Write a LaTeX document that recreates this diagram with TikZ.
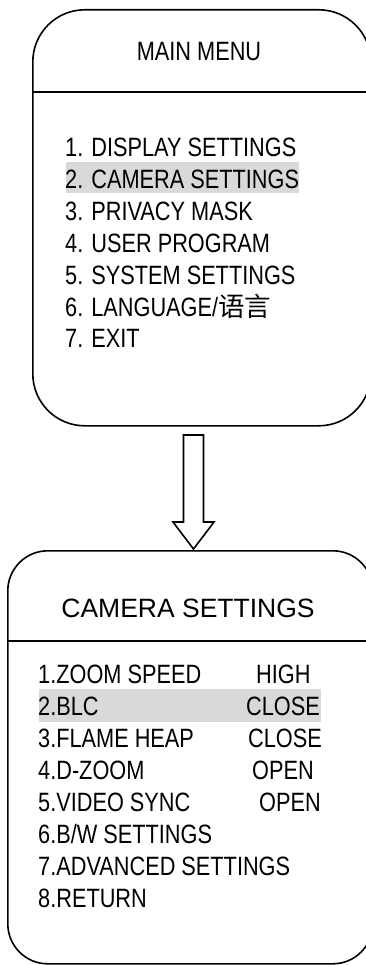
\documentclass[tikz,border=0pt]{standalone}
\usepackage{fontspec}
\setmainfont{Liberation Sans}[FakeStretch=0.82]
\newfontfamily\regfont{Liberation Sans}
\newfontfamily\cjk{Noto Sans CJK SC}
\begin{document}
\begin{tikzpicture}[x=1pt,y=-1pt,
  box/.style={draw, line width=1.6pt, anchor=north west, inner sep=0pt},
  item/.style={anchor=base west, inner sep=0pt, font=\fontsize{26.5pt}{30pt}\selectfont},
  ttl/.style={anchor=base, inner sep=0pt, font=\fontsize{26.5pt}{30pt}\selectfont},
  sep/.style={line width=1.6pt},
  hl/.style={fill=black!15, draw=none}]
\useasboundingbox (0,0) rectangle (366,965);
% highlights
\fill[hl] (66,162) rectangle (299,193);
\fill[hl] (39,689) rectangle (321,722);
% boxes
\node[box, rounded corners=52pt, minimum width=338pt, minimum height=416pt] (main) at (32,9) {};
\node[box, rounded corners=40pt, minimum width=365pt, minimum height=413pt] (cam) at (7,550) {};
\coordinate (m1) at (32,92); \coordinate (m2) at (372,92);
\draw[sep] (m1) -- (m2);
\coordinate (c1) at (7,641); \coordinate (c2) at (374,641);
\draw[sep] (c1) -- (c2);
% titles
\node[ttl] (t1) at (199,61) {MAIN MENU};
\node[ttl, font=\fontsize{26.5pt}{30pt}\regfont] (t2) at (188,617) {CAMERA SETTINGS};
% main items
\node[item] (a1) at (65,157) {1. DISPLAY SETTINGS};
\node[item] (a2) at (65,188.8) {2. CAMERA SETTINGS};
\node[item] (a3) at (65,220.6) {3. PRIVACY MASK};
\node[item] (a4) at (65,252.4) {4. USER PROGRAM};
\node[item] (a5) at (65,284.2) {5. SYSTEM SETTINGS};
\node[item] (a6) at (65,316) {6. LANGUAGE/{\cjk 语言}};
\node[item] (a7) at (65,347.8) {7. EXIT};
% camera items
\node[item] (b1) at (38,683) {1.ZOOM SPEED};
\node[item] (b2) at (38,715.1) {2.BLC};
\node[item] (b3) at (38,747.2) {3.FLAME HEAP};
\node[item] (b4) at (38,779.3) {4.D-ZOOM};
\node[item] (b5) at (38,811.4) {5.VIDEO SYNC};
\node[item] (b6) at (38,843.5) {6.B/W SETTINGS};
\node[item] (b7) at (38,875.6) {7.ADVANCED SETTINGS};
\node[item] (b8) at (38,907.7) {8.RETURN};
% values
\node[item] (v1) at (256,683) {HIGH};
\node[item] (v2) at (246,715.1) {CLOSE};
\node[item] (v3) at (248,747.2) {CLOSE};
\node[item] (v4) at (252,779.3) {OPEN};
\node[item] (v5) at (259,811.4) {OPEN};
% arrow
\draw[line width=1.6pt, line join=miter] (183.5,435) -- (203.5,435) -- (203.5,522) -- (214,522) -- (193.5,549) -- (173,522) -- (183.5,522) -- cycle;
\end{tikzpicture}
\end{document}
